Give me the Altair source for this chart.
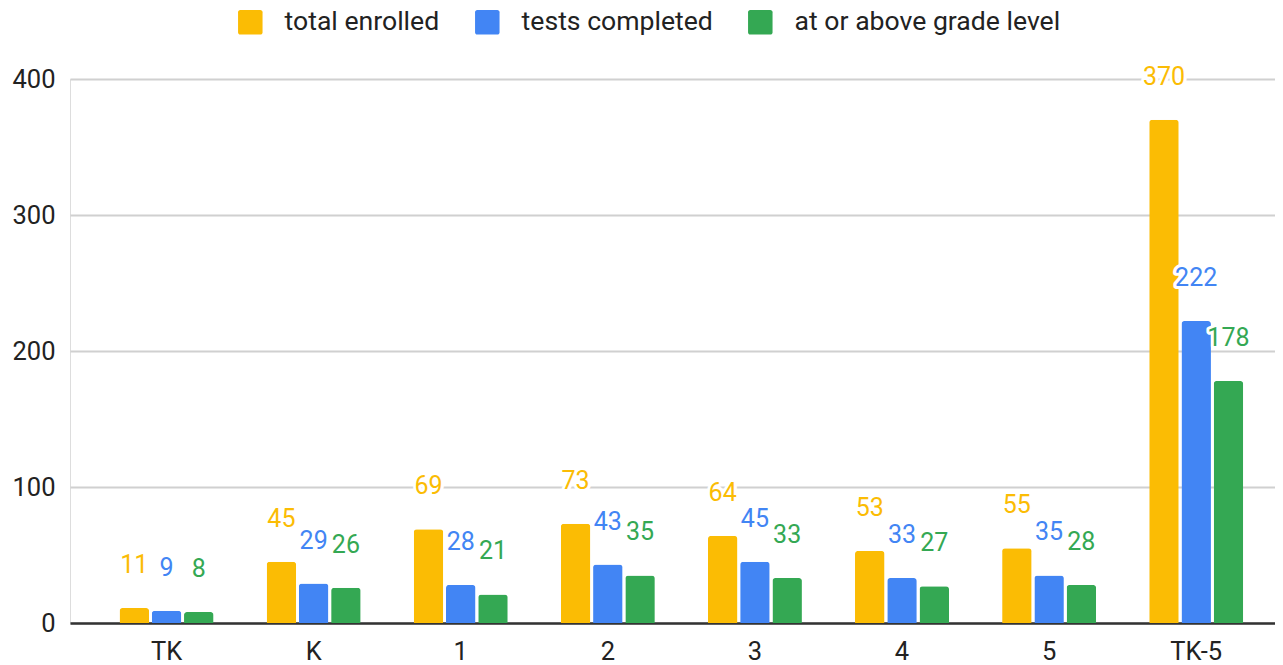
import altair as alt
import pandas as pd

grades = ["TK", "K", "1", "2", "3", "4", "5", "TK-5"]
series = ["total enrolled", "tests completed", "at or above grade level"]
total_enrolled = [11, 45, 69, 73, 64, 53, 55, 370]
tests_completed = [9, 29, 28, 43, 45, 33, 35, 222]
at_or_above = [8, 26, 21, 35, 33, 27, 28, 178]
colors = ["#FBBC04", "#4285F4", "#34A853"]
y_ticks = [0, 100, 200, 300, 400]

rows = []
for s, vals in zip(series, [total_enrolled, tests_completed, at_or_above]):
    for g, v in zip(grades, vals):
        rows.append({"grade": g, "series": s, "value": v})
df = pd.DataFrame(rows)

FONT = "Roboto"
ROUND_SQ = ("M-1,-0.82 A0.18,0.18 0 0 1 -0.82,-1 L0.82,-1 A0.18,0.18 0 0 1 1,-0.82 "
            "L1,0.82 A0.18,0.18 0 0 1 0.82,1 L-0.82,1 A0.18,0.18 0 0 1 -1,0.82 Z")

x = alt.X("grade:N", sort=grades, title=None,
          scale=alt.Scale(paddingInner=0.361, paddingOuter=0.2765, align=0.609),
          axis=alt.Axis(labelAngle=0, labelFontSize=25.5, labelColor="#222222", labelFont=FONT,
                        labelPadding=16, domainColor="#333333", domainWidth=2.5,
                        ticks=False, grid=False))
xo = alt.XOffset("series:N", sort=series, scale=alt.Scale(paddingInner=0.085, paddingOuter=0))
y = alt.Y("value:Q", title=None, scale=alt.Scale(domain=[0, 400], nice=False),
          axis=alt.Axis(values=y_ticks, labelFontSize=25.5, labelFont=FONT, labelColor="#222222",
                        labelPadding=15, domain=False, ticks=False,
                        gridColor="#d0d0d0", gridWidth=2))
cscale = alt.Scale(domain=series, range=colors)

base = alt.Chart(df)

bars = base.mark_bar(cornerRadiusTopLeft=3, cornerRadiusTopRight=3).encode(
    x=x, xOffset=xo, y=y,
    color=alt.Color("series:N", sort=series, scale=cscale,
                    legend=alt.Legend(orient="none", legendX=167, legendY=-70,
                                      direction="horizontal", title=None,
                                      symbolType=ROUND_SQ, symbolSize=600,
                                      symbolStrokeWidth=0, labelLimit=500,
                                      labelFontSize=26.6, labelFont=FONT, labelColor="#222222",
                                      labelOffset=21, columnPadding=34)),
)

halo = base.mark_text(dy=-43, fontSize=25, font=FONT, baseline="middle", align="center",
                      color="white", stroke="white", strokeWidth=6,
                      strokeJoin="round").encode(
    x=x, xOffset=xo, y=y, text="value:Q")

labels = base.mark_text(dy=-43, fontSize=25, font=FONT, baseline="middle", align="center").encode(
    x=x, xOffset=xo, y=y, text="value:Q",
    color=alt.Color("series:N", sort=series, scale=cscale, legend=None))

chart = alt.layer(bars, halo, labels).properties(
    width=1205, height=544,
    autosize=alt.AutoSizeParams(type="none"),
    padding={"left": 62, "top": 71, "right": 0, "bottom": 42},
).configure_view(stroke=None).configure(background="white")

chart.save("out.html", embed_options={"renderer": "svg", "actions": False})
